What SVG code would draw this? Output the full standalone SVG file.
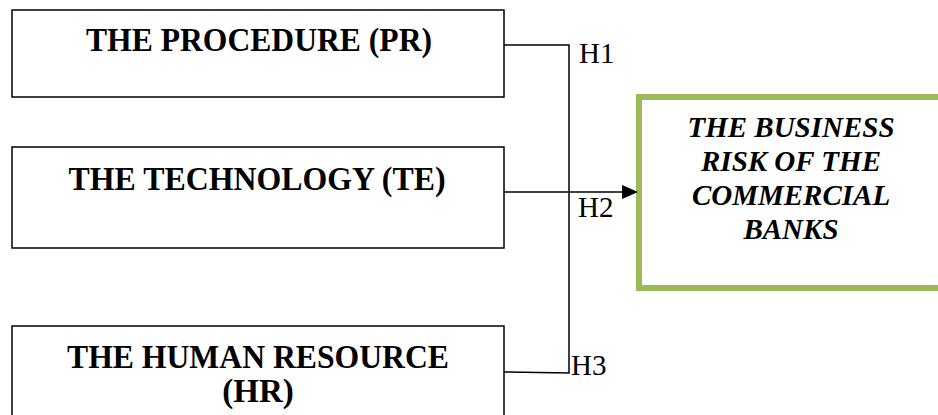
<svg xmlns="http://www.w3.org/2000/svg" width="938" height="415" viewBox="0 0 938 415">
  <style>
    .box { fill: #ffffff; stroke: #000000; stroke-width: 1.5; }
    .gbox { fill: #ffffff; stroke: #9BBB59; stroke-width: 6; }
    .lbl { font-family: "Liberation Serif", "Times New Roman", serif; font-weight: bold; font-size: 33px; fill: #000; text-anchor: middle; }
    .glbl { font-family: "Liberation Serif", "Times New Roman", serif; font-weight: bold; font-style: italic; font-size: 29px; fill: #000; text-anchor: middle; }
    .h { font-family: "Liberation Serif", "Times New Roman", serif; font-size: 29px; fill: #000; }
    .conn { fill: none; stroke: #000000; stroke-width: 1.5; }
  </style>
  <rect width="938" height="415" fill="#ffffff"/>

  <g id="pr">
    <rect class="box" x="12" y="10" width="492" height="87"/>
    <text class="lbl" x="259" y="51" textLength="346" lengthAdjust="spacingAndGlyphs">THE PROCEDURE (PR)</text>
  </g>

  <g id="te">
    <rect class="box" x="12" y="147" width="492" height="101"/>
    <text class="lbl" x="257" y="190" textLength="377" lengthAdjust="spacingAndGlyphs">THE TECHNOLOGY (TE)</text>
  </g>

  <g id="hr">
    <rect class="box" x="12" y="326" width="492" height="100"/>
    <text class="lbl" x="258" y="368" textLength="382" lengthAdjust="spacingAndGlyphs">THE HUMAN RESOURCE</text>
    <text class="lbl" x="258" y="402">(HR)</text>
  </g>

  <g id="risk">
    <rect class="gbox" x="639" y="97" width="310" height="191"/>
    <text class="glbl" x="791" y="137">THE BUSINESS</text>
    <text class="glbl" x="791" y="171">RISK OF THE</text>
    <text class="glbl" x="791" y="205">COMMERCIAL</text>
    <text class="glbl" x="791" y="239">BANKS</text>
  </g>

  <g id="connectors">
    <path class="conn" d="M504,45 L569,45 L569,373 L504,372"/>
    <path class="conn" d="M504,192 L623,192" stroke-width="2"/>
    <path d="M622,185 L638,192 L622,199 Z" fill="#000000"/>
    <text class="h" x="579" y="63">H1</text>
    <text class="h" x="578" y="217">H2</text>
    <text class="h" x="571" y="375">H3</text>
  </g>
</svg>
